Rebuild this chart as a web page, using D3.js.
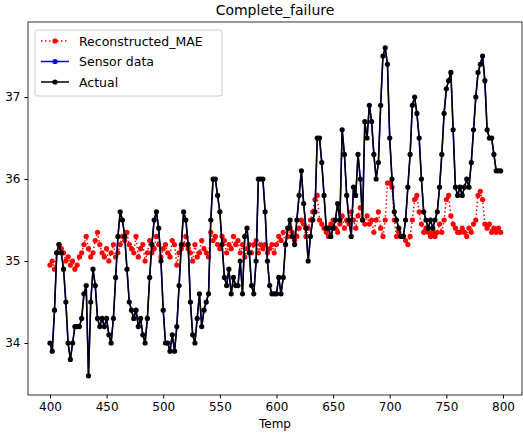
<!DOCTYPE html>
<html><head><meta charset="utf-8">
<script src="https://cdn.jsdelivr.net/npm/d3@7"></script>
<style>body{margin:0;background:#fff}text{font-family:"DejaVu Sans",sans-serif}</style>
</head><body><svg id="c" width="523" height="435"></svg>
<script>
const xStart = 400, xStep = 2;
const actual = [
34.0,33.9,34.4,35.1,35.2,35.1,34.9,34.5,34.0,33.8,
34.0,34.2,34.2,34.2,34.3,34.6,34.7,33.6,34.5,34.9,
34.7,34.3,34.2,34.3,34.2,34.3,34.1,34.0,34.3,34.8,
35.3,35.6,35.5,35.3,34.9,34.5,34.4,34.3,34.4,34.2,
34.3,34.1,34.0,34.3,34.8,35.2,35.5,35.6,35.4,35.0,
34.4,34.0,34.0,33.9,34.1,33.9,34.2,34.7,35.2,35.6,
35.5,35.2,34.5,34.1,34.0,34.3,34.6,34.2,34.4,34.5,
34.6,35.5,36.0,36.0,35.8,35.6,35.2,34.8,34.7,34.9,
34.6,34.8,34.7,34.7,35.0,34.6,35.3,35.4,35.1,34.7,
34.6,35.0,36.0,36.0,36.0,35.6,35.0,34.7,34.6,34.6,
34.6,34.8,34.6,34.8,35.2,35.4,35.5,35.3,35.2,35.5,
35.8,36.1,35.7,35.4,35.0,35.3,35.5,35.6,36.5,36.5,
36.2,35.8,35.4,35.4,35.3,35.4,35.5,35.7,35.5,36.6,
36.3,35.8,35.5,35.3,35.9,35.8,36.3,36.0,35.5,36.7,
36.5,36.9,36.7,36.3,36.0,36.2,36.9,37.5,37.6,37.4,
36.5,36.0,35.6,35.5,35.4,35.3,35.3,35.5,35.9,36.3,
36.9,37.0,36.8,36.5,36.0,35.6,35.5,35.4,35.5,35.4,
35.5,35.6,35.9,36.3,36.8,37.1,37.2,37.3,36.6,35.9,
35.8,35.9,35.8,35.9,36.0,35.9,36.2,36.6,37.0,37.3,
37.4,37.5,37.2,36.6,36.5,36.5,36.3,36.1,36.1,36.1];
const sensor = actual.slice();
const recon = [
34.95,35.0,34.9,35.1,35.2,35.15,35.1,35.0,35.05,34.95,
35.0,34.9,34.95,35.05,35.1,35.2,35.3,35.15,35.05,35.1,
35.25,35.35,35.2,35.1,35.05,35.15,35.0,35.1,35.2,35.05,
35.1,35.2,35.3,35.25,35.35,35.2,35.15,35.1,35.3,35.05,
35.15,35.2,35.0,35.1,35.25,35.1,35.15,35.3,35.2,35.05,
35.15,35.2,35.1,35.05,35.25,35.2,34.95,35.1,35.15,35.2,
35.3,35.15,35.1,35.0,35.2,35.05,35.1,35.25,35.15,35.1,
35.05,35.35,35.25,35.3,35.2,35.15,35.3,35.25,35.1,35.2,
35.15,35.3,35.2,35.25,35.1,35.2,35.05,35.15,35.2,35.1,
35.2,35.25,35.1,35.2,35.15,35.2,35.1,35.15,35.2,35.1,
35.2,35.3,35.25,35.35,35.2,35.3,35.4,35.35,35.25,35.3,
35.4,35.5,35.45,35.3,35.4,35.5,35.6,35.75,35.8,35.5,
35.45,35.4,35.35,35.3,35.45,35.5,35.4,35.35,35.45,35.55,
35.4,35.5,35.45,35.6,35.5,35.4,35.55,35.65,35.5,35.45,
35.55,35.45,35.5,35.35,35.5,35.6,35.4,35.3,35.5,35.95,
35.95,35.9,35.5,35.3,35.35,35.3,35.3,35.25,35.2,35.3,
35.5,35.75,35.8,35.6,35.45,35.35,35.4,35.35,35.3,35.35,
35.3,35.35,35.45,35.35,35.5,35.75,35.8,35.55,35.45,35.4,
35.35,35.35,35.4,35.35,35.3,35.4,35.35,35.45,35.5,35.8,
35.85,35.75,35.45,35.4,35.45,35.35,35.4,35.35,35.4,35.35];
const xTicks = [400,450,500,550,600,650,700,750,800];
const yTicks = [34,35,36,37];
const seriesNames = ["Reconstructed_MAE","Sensor data","Actual"];

const svg = d3.select("#c");
const L=28,R=522,T=22,B=395;
const x = d3.scaleLinear().domain([380.6,816.8]).range([L,R]);
const y = d3.scaleLinear().domain([33.366,37.915]).range([B,T]);
const pts = a => a.map((v,i)=>[xStart+i*xStep,v]);
const line = d3.line().x(d=>x(d[0])).y(d=>y(d[1]));

const g = svg.append("g");
g.append("path").datum(pts(recon)).attr("d",line).attr("fill","none").attr("stroke","red").attr("stroke-width",1.5).attr("stroke-dasharray","1.5,2.5");
g.selectAll(".r").data(pts(recon)).join("circle").attr("cx",d=>x(d[0])).attr("cy",d=>y(d[1])).attr("r",2.6).attr("fill","red");
g.append("path").datum(pts(sensor)).attr("d",line).attr("fill","none").attr("stroke","blue").attr("stroke-width",1.5);
g.append("path").datum(pts(actual)).attr("d",line).attr("fill","none").attr("stroke","black").attr("stroke-width",1.5);
g.selectAll(".a").data(pts(actual)).join("circle").attr("cx",d=>x(d[0])).attr("cy",d=>y(d[1])).attr("r",2.6).attr("fill","black");

svg.append("rect").attr("x",L).attr("y",T).attr("width",R-L).attr("height",B-T).attr("fill","none").attr("stroke","black").attr("stroke-width",0.8);
svg.append("g").attr("transform",`translate(0,${B})`).call(d3.axisBottom(x).tickValues(xTicks).tickFormat(d3.format("d")).tickSize(3.5).tickPadding(4)).call(a=>{a.select(".domain").remove();a.selectAll("text").attr("font-size",12).attr("fill","#000");});
svg.append("g").attr("transform",`translate(${L},0)`).call(d3.axisLeft(y).tickValues(yTicks).tickFormat(d3.format("d")).tickSize(3.5).tickPadding(4)).call(a=>{a.select(".domain").remove();a.selectAll("text").attr("font-size",12).attr("fill","#000");});
svg.append("text").attr("x",(L+R)/2).attr("y",428).attr("text-anchor","middle").attr("font-size",12).text("Temp");
svg.append("text").attr("x",(L+R)/2).attr("y",15).attr("text-anchor","middle").attr("font-size",14).text("Complete_failure");

const lg = svg.append("g").attr("transform","translate(35,30)");
lg.append("rect").attr("width",187).attr("height",66).attr("rx",2).attr("fill","white").attr("fill-opacity",0.8).attr("stroke","#ccc");
const cols=["red","blue","black"];
seriesNames.forEach((n,i)=>{
  const yy=11+i*20.5;
  lg.append("line").attr("x1",6).attr("x2",34).attr("y1",yy).attr("y2",yy).attr("stroke",cols[i]).attr("stroke-width",1.5).attr("stroke-dasharray",i==0?"1.5,2.5":null);
  lg.append("circle").attr("cx",20).attr("cy",yy).attr("r",2.6).attr("fill",cols[i]);
  lg.append("text").attr("x",44).attr("y",yy+4.5).attr("font-size",12.5).text(n);
});
</script></body></html>
